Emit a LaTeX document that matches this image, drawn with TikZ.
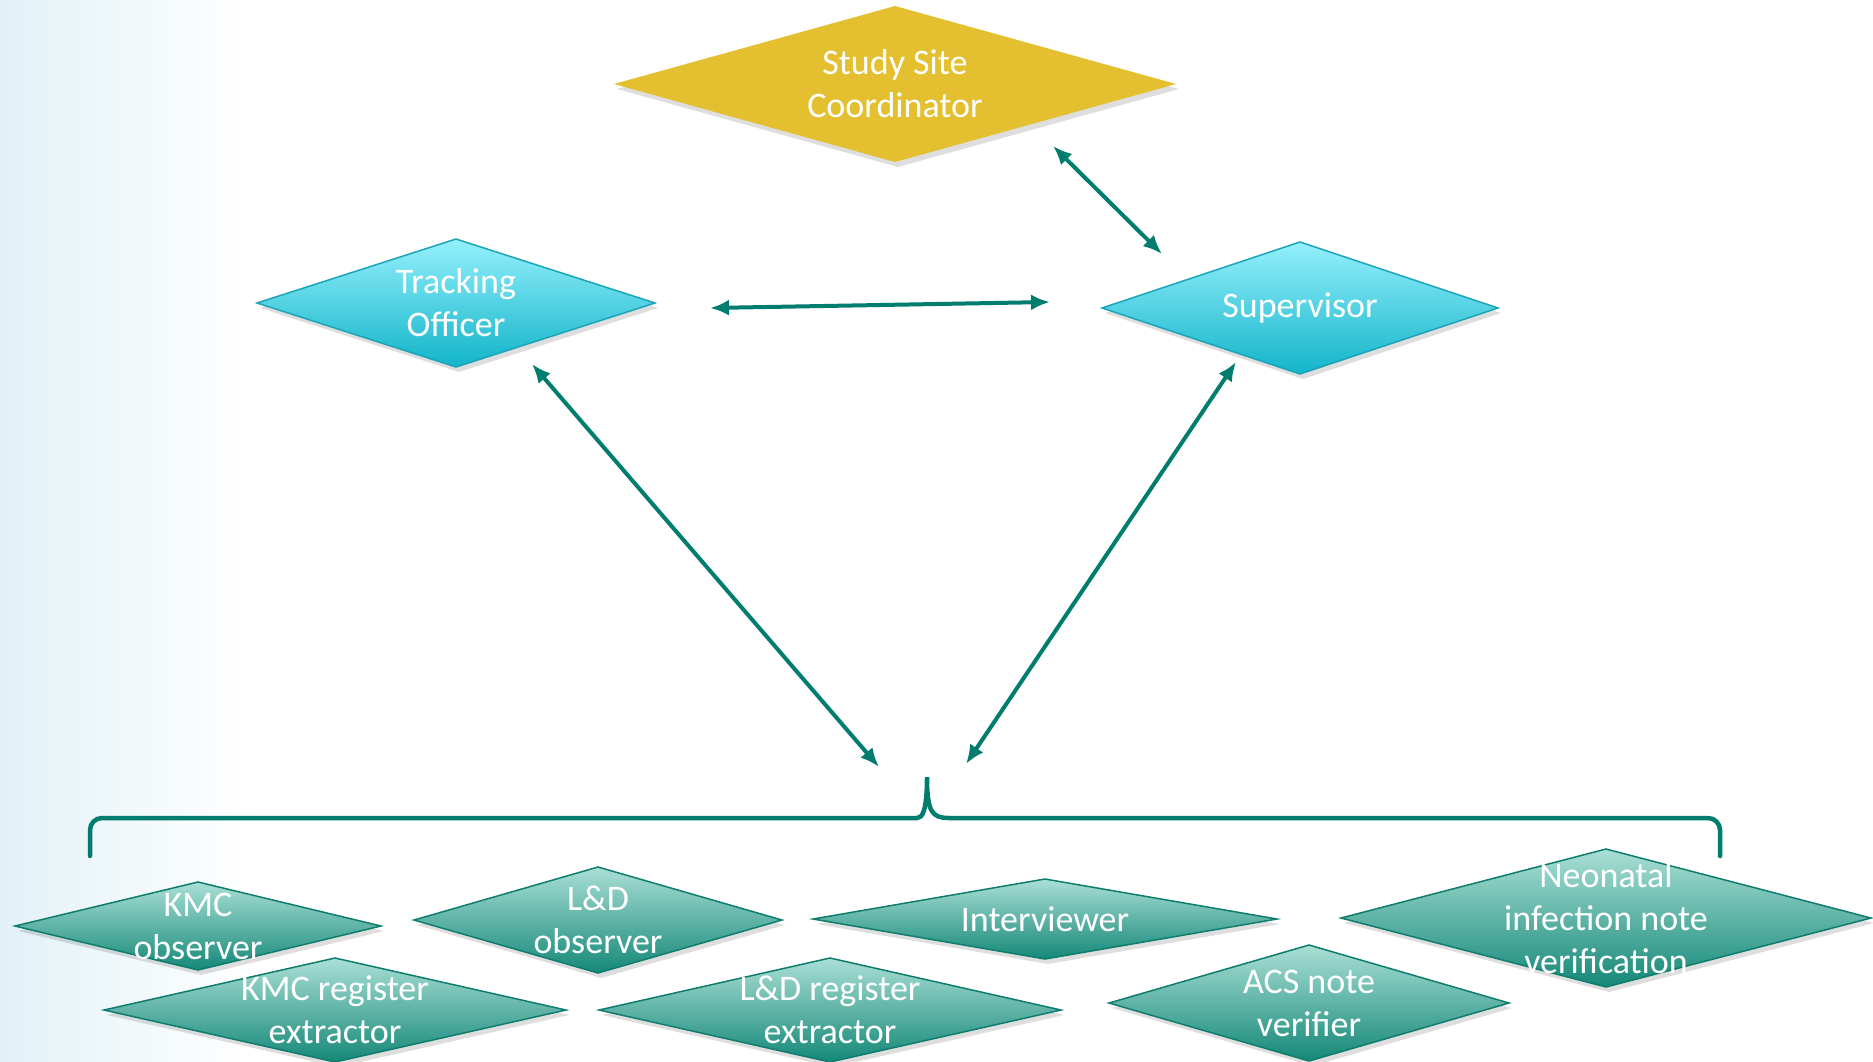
\documentclass[tikz,border=0pt]{standalone}
\usepackage{fontspec}
\setmainfont{Carlito}
\usetikzlibrary{arrows.meta,calc}
\definecolor{goldc}{HTML}{E4C030}
\definecolor{cyantop}{HTML}{95F0FC}
\definecolor{cyanbot}{HTML}{12B4C9}
\definecolor{cyanline}{HTML}{1BA5B8}
\definecolor{tealtop}{HTML}{AADFD5}
\definecolor{tealbot}{HTML}{148878}
\definecolor{tealline}{HTML}{0F7D6E}
\definecolor{linkc}{HTML}{007D6E}
\definecolor{bgl}{HTML}{E2F1F6}
\newcommand\rdia[7]{%
  \fill[black,opacity=.13] (#2-#4+3,#3+5) -- (#2+3,#3-#5+5) -- (#2+#4+3,#3+5) -- (#2+3,#3+#5+5) -- cycle;
  \path[#6] (#2-#4,#3) -- (#2,#3-#5) -- (#2+#4,#3) -- (#2,#3+#5) -- cycle;
  \coordinate (#1) at (#2,#3);}
\begin{document}
\begin{tikzpicture}[x=1pt,y=-1pt,
  goldbox/.style={fill=goldc},
  cyanbox/.style={top color=cyantop,bottom color=cyanbot,draw=cyanline,line width=1.5pt},
  tealbox/.style={top color=tealtop,bottom color=tealbot,draw=tealline,line width=1.5pt},
  lbl/.style={text=white,align=center,inner sep=0pt,font=\fontsize{36}{43}\selectfont},
  conn/.style={draw=linkc,line width=4pt,{Latex[length=19pt,width=16pt]}-{Latex[length=19pt,width=16pt]}},
  bracec/.style={draw=linkc,line width=4.5pt,line cap=round}]
\useasboundingbox (0,0) rectangle (1873,1061);
\fill[white] (0,0) rectangle (1873,1061);
\shade[left color=bgl,right color=white] (0,0) rectangle (250,1061);

% shapes
\rdia{ssc}{895}{84}{281}{78}{goldbox}{}
\rdia{tro}{456}{303}{199}{64}{cyanbox}{}
\rdia{sup}{1300}{308}{198}{66}{cyanbox}{}
\rdia{kmco}{198}{926}{183}{44}{tealbox}{}
\rdia{ldo}{598}{920}{184}{53}{tealbox}{}
\rdia{intv}{1045}{919}{232}{40}{tealbox}{}
\rdia{neo}{1606}{918}{265}{69}{tealbox}{}
\rdia{kmcr}{335}{1010}{231}{52}{tealbox}{}
\rdia{ldr}{830}{1010}{231}{52}{tealbox}{}
\rdia{acs}{1309}{1003}{200}{58}{tealbox}{}

% labels
\node[lbl] (sscT) at (ssc) {Study Site\\Coordinator};
\node[lbl] (troT) at (tro) {Tracking\\Officer};
\node[lbl] (supT) at (sup) {Supervisor};
\node[lbl] (kmcoT) at (kmco) {KMC\\observer};
\node[lbl] (ldoT) at (ldo) {L\&D\\observer};
\node[lbl] (intvT) at (intv) {Interviewer};
\node[lbl] (neoT) at (neo) {Neonatal\\infection note\\verification};
\node[lbl] (kmcrT) at (kmcr) {KMC register\\extractor};
\node[lbl] (ldrT) at (ldr) {L\&D register\\extractor};
\node[lbl] (acsT) at (acs) {ACS note\\verifier};

% brace
\coordinate (brL) at (90,856);
\coordinate (brR) at (1720,856);
\coordinate (brTip) at (927,777);
\draw[bracec] (brL) [rounded corners=12pt] -- (90,818) -- (905,818) [sharp corners]
  .. controls (922,818) and (927,812) .. (brTip)
  .. controls (927,812) and (932,818) .. (949,818) [rounded corners=12pt] -- (1720,818) -- (brR);

% connector end points
\coordinate (a1) at (1053,146);
\coordinate (a2) at (1162,254);
\coordinate (b1) at (710,308);
\coordinate (b2) at (1050,302);
\coordinate (c1) at (532,364);
\coordinate (c2) at (879,767);
\coordinate (d1) at (1236,362);
\coordinate (d2) at (966,764);

\draw[conn] (a1) -- (a2);
\draw[conn] (b1) -- (b2);
\draw[conn] (c1) -- (c2);
\draw[conn] (d1) -- (d2);
\end{tikzpicture}
\end{document}
